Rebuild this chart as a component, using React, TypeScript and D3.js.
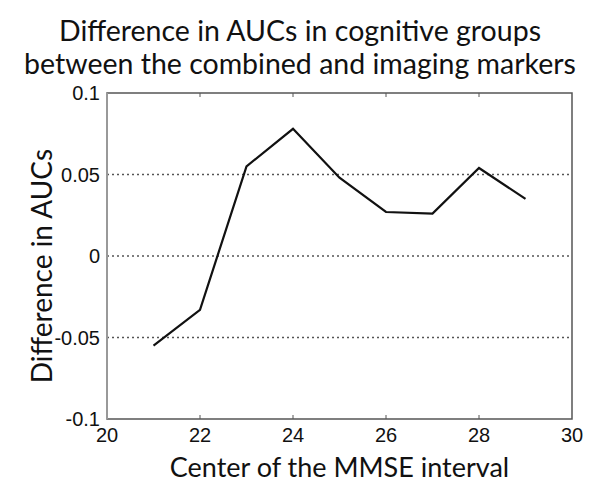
import React from 'react';
import * as d3 from 'd3';

const mmseCenters = [21, 22, 23, 24, 25, 26, 27, 28, 29];
const aucDiff = [-0.055, -0.033, 0.055, 0.078, 0.048, 0.027, 0.026, 0.054, 0.035];
const xTicks = [20, 22, 24, 26, 28, 30];
const yTicks = [-0.1, -0.05, 0, 0.05, 0.1];
const yTickLabels = ['-0.1', '-0.05', '0', '0.05', '0.1'];
const titleLines = ['Difference in AUCs in cognitive groups', 'between the combined and imaging markers'];

const W = 600;
const H = 495;
const margin = { top: 93, right: 28, bottom: 76, left: 107 };

const App: React.FC = () => {
  const innerW = W - margin.left - margin.right;
  const innerH = H - margin.top - margin.bottom;

  const x = d3.scaleLinear().domain([20, 30]).range([0, innerW]);
  const y = d3.scaleLinear().domain([-0.1, 0.1]).range([innerH, 0]);

  const line = d3.line<number>()
    .x((_, i) => x(mmseCenters[i]))
    .y(d => y(d));

  const tickFont = '"Liberation Sans", Arial, sans-serif';
  const labelFont = 'Lato, "Open Sans", sans-serif';

  return (
    <svg width={W} height={H} style={{ position: 'absolute', left: 0, top: 0, background: '#fff' }}>
      {titleLines.map((t, i) => (
        <text key={t} x={300} y={41 + i * 33} textAnchor="middle" fontFamily={labelFont} fontSize={28.5} fill="#111">
          {t}
        </text>
      ))}
      <g transform={`translate(${margin.left},${margin.top})`}>
        {yTicks.filter(v => v !== -0.1 && v !== 0.1).map(v => (
          <line key={v} x1={0} x2={innerW} y1={y(v)} y2={y(v)} stroke="#555" strokeWidth={1.3} strokeDasharray="2,3" />
        ))}
        {xTicks.filter(v => v !== 20 && v !== 30).map(v => (
          <g key={v}>
            <line x1={x(v)} x2={x(v)} y1={innerH} y2={innerH - 4} stroke="#555" />
            <line x1={x(v)} x2={x(v)} y1={0} y2={4} stroke="#555" />
          </g>
        ))}
        <rect x={0} y={0} width={innerW} height={innerH} fill="none" stroke="#555" strokeWidth={1.5} />
        <line x1={0} x2={0} y1={0} y2={innerH} stroke="#999" strokeWidth={2} />
        <path d={line(aucDiff) ?? ''} fill="none" stroke="#111" strokeWidth={2.2} />
        {yTicks.map((v, i) => (
          <text key={v} x={-7} y={y(v)} dy="0.35em" textAnchor="end" fontFamily={tickFont} fontSize={20} fill="#111">
            {yTickLabels[i]}
          </text>
        ))}
        {xTicks.map(v => (
          <text key={v} x={x(v)} y={innerH + 23} textAnchor="middle" fontFamily={tickFont} fontSize={20} fill="#111">
            {v}
          </text>
        ))}
        <text x={innerW / 2} y={innerH + 58} textAnchor="middle" fontFamily={labelFont} fontSize={27} fill="#111">
          Center of the MMSE interval
        </text>
        <text transform={`translate(${-55},${innerH / 2 + 10}) rotate(-90)`} textAnchor="middle" fontFamily={labelFont} fontSize={28} fill="#111">
          Difference in AUCs
        </text>
      </g>
    </svg>
  );
};

export default App;
